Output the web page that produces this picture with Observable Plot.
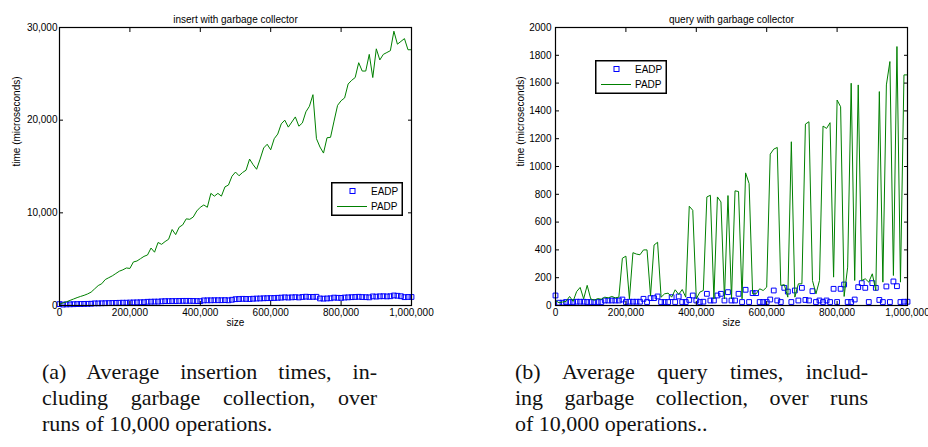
<!DOCTYPE html>
<html><head><meta charset="utf-8">
<script src="https://cdn.jsdelivr.net/npm/d3@7"></script>
<script src="https://cdn.jsdelivr.net/npm/@observablehq/plot@0.6"></script>
<style>
body{margin:0;background:#fff;}
#wrap{position:relative;width:928px;height:447px;overflow:hidden;background:#fff;font-family:"Liberation Sans",Arial,sans-serif;}
.panel{position:absolute;top:0;}
.legend{position:absolute;}
.cap{position:absolute;font-family:"Liberation Serif","Times New Roman",serif;font-size:22px;line-height:26px;color:#111;white-space:nowrap;}
.cap .j{text-align:justify;text-align-last:justify;white-space:normal;}
</style></head>
<body>
<div id="wrap">
  <div class="panel" id="pa" style="left:0"></div>
  <div class="panel" id="pb" style="left:464px"></div>
  <div class="cap" style="left:42px;top:359px;width:335px">
    <div class="j">(a) Average insertion times, in-</div>
    <div class="j">cluding garbage collection, over</div>
    <div>runs of 10,000 operations.</div>
  </div>
  <div class="cap" style="left:515px;top:359px;width:353px">
    <div class="j">(b) Average query times, includ-</div>
    <div class="j">ing garbage collection, over runs</div>
    <div>of 10,000 operations..</div>
  </div>
</div>
<script>
// ---- data ----
const sizes = d3.range(0, 1000001, 10000);
const xTicks = [0, 200000, 400000, 600000, 800000, 1000000];
const insertYTicks = [0, 10000, 20000, 30000];
const queryYTicks = [0, 200, 400, 600, 800, 1000, 1200, 1400, 1600, 1800, 2000];
const seriesNames = ["EADP", "PADP"];
const titles = ["insert with garbage collector", "query with garbage collector"];
const xLabel = "size";
const yLabel = "time (microseconds)";

const insertPADP = [150,280,400,550,700,850,980,1100,1250,1450,
 1800,2150,2350,2800,3000,3200,3450,3700,3850,4050,
 4000,4700,4800,5050,5300,5450,6200,5750,6800,6600,
 6900,7150,8200,7650,8450,8700,9350,9300,9550,10200,
 10600,10850,10600,12100,11800,12100,11800,12800,13000,13950,
 14400,14000,14350,14600,15800,15200,14700,15800,17000,17400,
 16800,18000,18500,19600,20000,19250,19800,20350,19350,19700,
 20900,21500,22750,18000,17100,16450,18100,18150,19900,21600,
 22100,22400,23900,24300,24600,26200,25300,25300,27100,24600,
 27700,26500,27100,27300,27500,29600,28200,28500,28800,27600,27600];

const insertEADP = [150,100,120,130,140,150,160,170,180,190,
 230,230,240,250,260,270,280,290,300,300,
 320,330,340,350,360,400,410,420,420,450,
 470,470,480,480,490,500,500,500,490,480,
 470,550,560,560,570,570,570,580,560,620,
 680,700,720,710,700,730,750,760,780,790,
 800,810,830,850,880,860,880,900,870,920,
 950,930,930,940,760,740,760,780,850,830,
 820,860,880,900,920,940,910,900,880,980,
 960,990,1000,980,1000,1080,1050,1000,900,920,920];

const queryPADP = [36,20,25,30,65,30,100,130,48,145,
 48,38,50,45,60,55,65,55,60,340,
 355,48,380,370,365,400,400,70,435,455,
 60,84,89,60,113,80,115,60,714,685,
 48,96,108,781,793,48,781,745,48,791,
 48,825,820,48,954,877,84,84,120,108,
 132,1089,1125,1137,144,150,60,1178,60,156,
 156,1305,1322,180,84,180,1291,1274,1315,204,
 1478,1430,65,276,1599,180,1587,180,192,168,
 228,108,1539,168,1587,1755,216,1863,168,1659,1659];

const queryEADP = [72,20,20,25,25,25,27,27,27,25,
 25,25,25,25,36,36,36,36,36,43,
 25,27,27,27,27,48,25,53,53,65,
 25,25,25,60,25,65,25,25,40,72,
 36,25,27,84,36,36,72,84,36,96,
 36,36,84,25,113,25,89,89,25,25,
 25,43,108,36,25,127,100,25,108,36,
 127,40,36,103,25,36,25,36,25,120,
 25,120,151,25,25,43,132,161,127,25,
 161,127,40,25,137,25,173,139,25,27,27];

// ---- drawing ----
const GREEN = "#008000", BLUE = "#0000ff";
const FONT = '"Liberation Sans", Arial, sans-serif';
function makePanel({title, padp, eadp, yMax, yTicks, yFmt, marginLeft, marginRight, yLabelDx, yTickPad}) {
  const rows = sizes.map((s, i) => ({size: s, padp: padp[i], eadp: eadp[i]}));
  return Plot.plot({
    width: 464, height: 335,
    marginLeft, marginRight, marginTop: 27, marginBottom: 30,
    style: {fontFamily: FONT, fontSize: "10px", color: "#000", background: "transparent", overflow: "visible"},
    x: {domain: [0, 1000000]},
    y: {domain: [0, yMax]},
    marks: [
      Plot.dot(rows, {x: "size", y: "eadp", symbol: "square", r: 2.7, stroke: BLUE, strokeWidth: 1, fill: "none"}),
      Plot.line(rows, {x: "size", y: "padp", stroke: GREEN, strokeWidth: 1}),
      Plot.frame({stroke: "#000", strokeWidth: 1.2}),
      Plot.axisX(xTicks, {anchor: "bottom", tickSize: -4, tickPadding: 7, tickFormat: d3.format(","), label: null}),
      Plot.axisX(xTicks, {anchor: "top", tickSize: -4, tickFormat: () => "", label: null}),
      Plot.axisY(yTicks, {anchor: "left", tickSize: -4, tickPadding: yTickPad, tickFormat: yFmt, label: null}),
      Plot.axisY(yTicks, {anchor: "right", tickSize: -4, tickFormat: () => "", label: null}),
      Plot.text([xLabel], {frameAnchor: "bottom", dy: 20, fontSize: 10, fill: "#000"}),
      Plot.text([yLabel], {frameAnchor: "left", dx: yLabelDx, rotate: -90, fontSize: 10, fill: "#000"}),
      Plot.text([title], {frameAnchor: "top", dy: -12, fontSize: 10, fill: "#000"})
    ]
  });
}

document.getElementById("pa").append(makePanel({
  title: titles[0], padp: insertPADP, eadp: insertEADP, yMax: 30000, yTicks: insertYTicks,
  yFmt: d3.format(","), marginLeft: 59, marginRight: 53, yLabelDx: -43, yTickPad: 6
}));
document.getElementById("pb").append(makePanel({
  title: titles[1], padp: queryPADP, eadp: queryEADP, yMax: 2000, yTicks: queryYTicks,
  yFmt: d3.format("d"), marginLeft: 91, marginRight: 21, yLabelDx: -35, yTickPad: 8
}));

// legends (overlay boxes)
function legend(left, top) {
  const svg = d3.create("svg").attr("width", 72).attr("height", 34)
    .attr("class", "legend").style("left", left + "px").style("top", top + "px");
  svg.append("rect").attr("x", 0.75).attr("y", 0.75).attr("width", 70.5).attr("height", 32.5)
    .attr("fill", "#fff").attr("stroke", "#000").attr("stroke-width", 1.5);
  svg.append("rect").attr("x", 19).attr("y", 6.5).attr("width", 5).attr("height", 5)
    .attr("fill", "none").attr("stroke", BLUE);
  svg.append("line").attr("x1", 6).attr("x2", 36).attr("y1", 24.5).attr("y2", 24.5)
    .attr("stroke", GREEN).attr("stroke-width", 1);
  seriesNames.forEach((n, i) => {
    svg.append("text").attr("x", 40).attr("y", 9 + i * 15.5).attr("dy", "0.35em")
      .attr("font-size", 10).attr("font-family", FONT)
      .attr("fill", "#000").text(n);
  });
  document.getElementById("wrap").append(svg.node());
}
legend(331, 182);
legend(595, 60);
</script>
</body></html>
